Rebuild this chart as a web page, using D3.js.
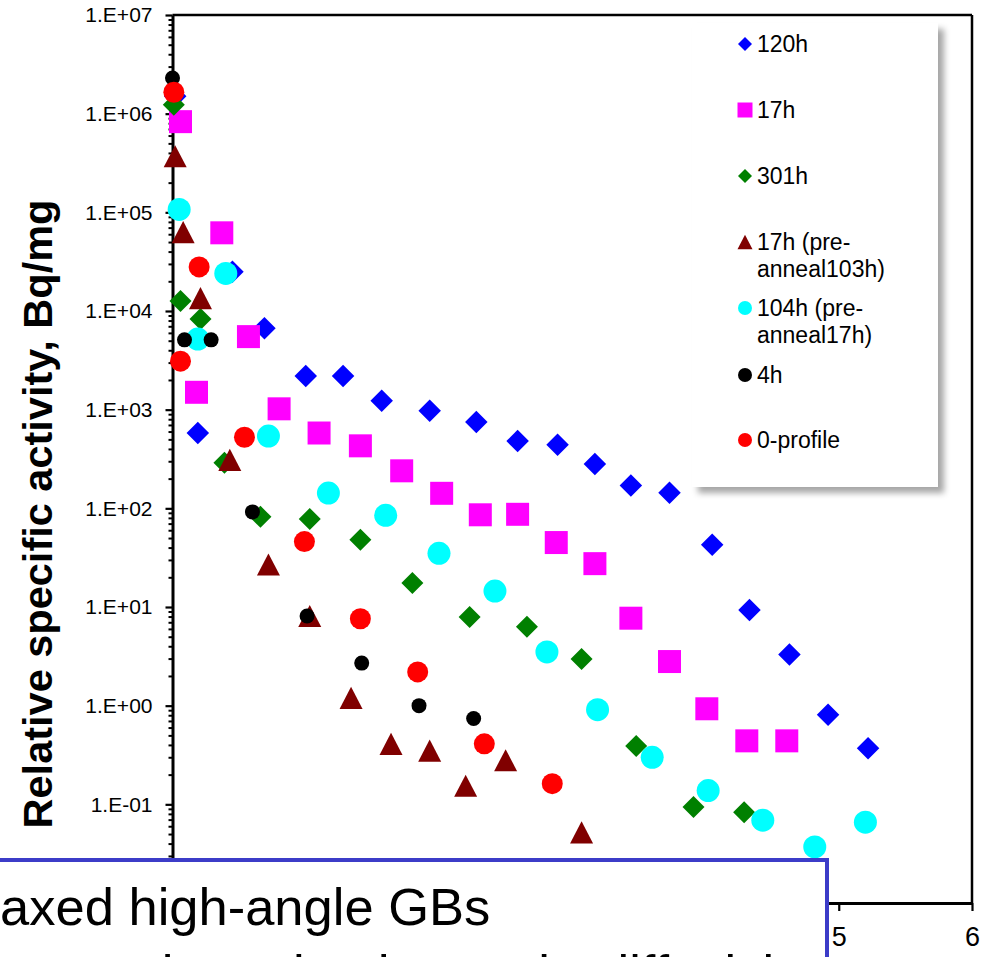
<!DOCTYPE html>
<html>
<head>
<meta charset="utf-8">
<script src="https://cdn.jsdelivr.net/npm/d3@7"></script>
<style>
  html, body { margin: 0; padding: 0; background: #fff; }
  svg { display: block; font-family: "Liberation Sans", Arial, sans-serif; }
</style>
</head>
<body>
<svg id="chart" width="986" height="957"></svg>
<script>
// ---------------- DATA ----------------
const seriesNames = ["120h", "17h", "301h", "17h (pre-anneal103h)", "104h (pre-anneal17h)", "4h", "0-profile"];
const legendLines = [["120h"], ["17h"], ["301h"], ["17h (pre-", "anneal103h)"], ["104h (pre-", "anneal17h)"], ["4h"], ["0-profile"]];

const x120h = [0.02, 0.19, 0.45, 0.69, 1.00, 1.28, 1.57, 1.93, 2.28, 2.59, 2.89, 3.17, 3.44, 3.73, 4.05, 4.33, 4.63, 4.92, 5.22];
const y120h = [1.5e6, 580, 2.5e4, 6.7e3, 2.2e3, 2.2e3, 1.23e3, 975, 750, 480, 440, 282, 170, 144, 42.7, 9.3, 3.3, 0.81, 0.37];

const x17h = [0.06, 0.37, 0.57, 0.18, 0.80, 1.10, 1.41, 1.72, 2.02, 2.31, 2.59, 2.88, 3.17, 3.44, 3.73, 4.01, 4.31, 4.61];
const y17h = [8.3e5, 6.2e4, 5.5e3, 1.5e3, 1.02e3, 580, 430, 240, 142, 86, 87, 45, 27.5, 7.7, 2.8, 0.93, 0.44, 0.44];

const x301h = [0.01, 0.06, 0.21, 0.39, 0.66, 1.03, 1.41, 1.80, 2.23, 2.66, 3.07, 3.48, 3.91, 4.29];
const y301h = [1.23e6, 1.26e4, 8.3e3, 290, 82, 78, 48, 17.5, 7.9, 6.3, 2.97, 0.39, 0.094, 0.083];

const x17hPre = [0.02, 0.08, 0.21, 0.43, 0.72, 1.03, 1.34, 1.64, 1.93, 2.20, 2.50, 3.07];
const y17hPre = [3.7e5, 6.3e4, 1.35e4, 310, 27, 8.1, 1.2, 0.41, 0.35, 0.154, 0.28, 0.052];

const x104hPre = [0.05, 0.40, 0.19, 0.72, 1.17, 1.60, 2.00, 2.42, 2.81, 3.19, 3.60, 4.02, 4.43, 4.82, 5.20];
const y104hPre = [1.07e5, 2.4e4, 5.2e3, 540, 143, 85, 35, 14.5, 3.5, 0.91, 0.30, 0.138, 0.069, 0.037, 0.066];

const x4h = [0.00, 0.09, 0.29, 0.60, 1.01, 1.42, 1.85, 2.26];
const y4h = [2.3e6, 5.1e3, 5.1e3, 92, 8.1, 2.7, 1.0, 0.74];

const x0p = [0.01, 0.20, 0.06, 0.54, 0.99, 1.41, 1.84, 2.34, 2.85];
const y0p = [1.65e6, 2.8e4, 3.1e3, 525, 46, 7.6, 2.2, 0.41, 0.162];

const xTicks = [0, 1, 2, 3, 4, 5, 6];
const xTickLabelsShown = [5, 6];          // the others lie under the text box
const yTicks = [1e-2, 1e-1, 1e0, 1e1, 1e2, 1e3, 1e4, 1e5, 1e6, 1e7];
const yTickLabelsHidden = [1e-2];          // under the text box
const yLabel = "Relative specific activity, Bq/mg";
const boxLine1 = "axed high-angle GBs";
const boxLine2a = "ant";
const boxLine2b = "role and enhanced";
const boxLine2c = "diffusivity";

// ---------------- STYLE ----------------
const seriesX = [x120h, x17h, x301h, x17hPre, x104hPre, x4h, x0p];
const seriesY = [y120h, y17h, y301h, y17hPre, y104hPre, y4h, y0p];
const colors = ["#0000FF", "#FF00FF", "#008000", "#800000", "#00FFFF", "#000000", "#FF0000"];
const shapes = ["diamond", "square", "diamond", "triangle", "circle", "circle", "circle"];
const plotSizes = [22.5, 23, 22, 23, 23, 15, 21];
const legendSizes = [14, 15, 14, 15, 14, 14, 14];

const svg = d3.select("#chart");
const plotL = 172.5, plotR = 972, plotT = 15, plotB = 903;

const x = d3.scaleLinear().domain([0, 6]).range([plotL, plotR]);
const y = d3.scaleLog().domain([1e-2, 1e7]).range([plotB, plotT]);

function shapePath(shape, d) {
  const p = d3.path();
  const r = d / 2;
  if (shape === "diamond") {
    p.moveTo(0, -r); p.lineTo(r, 0); p.lineTo(0, r); p.lineTo(-r, 0); p.closePath();
  } else if (shape === "square") {
    p.rect(-r, -r, d, d);
  } else if (shape === "triangle") {
    const h = d * 0.96;
    p.moveTo(0, -h / 2); p.lineTo(r, h / 2); p.lineTo(-r, h / 2); p.closePath();
  } else {
    p.arc(0, 0, r, 0, 2 * Math.PI);
  }
  return p.toString();
}

// defs: legend shadow
const defs = svg.append("defs");
const f = defs.append("filter").attr("id", "shadow").attr("x", "-10%").attr("y", "-10%").attr("width", "130%").attr("height", "130%");
f.append("feDropShadow").attr("dx", 6).attr("dy", 6).attr("stdDeviation", 3).attr("flood-color", "#000").attr("flood-opacity", 0.35);

// plot frame (top & right)
svg.append("line").attr("x1", plotL).attr("x2", plotR).attr("y1", plotT).attr("y2", plotT).attr("stroke", "#000").attr("stroke-width", 2.5);
svg.append("line").attr("x1", plotR).attr("x2", plotR).attr("y1", plotT).attr("y2", plotB).attr("stroke", "#000").attr("stroke-width", 2.5);

// y axis
const fmt = d => {
  if (yTickLabelsHidden.includes(d)) return "";
  const e = Math.round(Math.log10(d));
  return "1.E" + (e < 0 ? "-" : "+") + String(Math.abs(e)).padStart(2, "0");
};
const minorTicks = [];
for (let k = -2; k < 7; k++) for (let m = 2; m <= 9; m++) minorTicks.push(m * Math.pow(10, k));

const yMinor = svg.append("g").attr("transform", `translate(${plotL},0)`)
  .call(d3.axisLeft(y).tickValues(minorTicks).tickSize(4).tickFormat(""));
yMinor.select(".domain").remove();
yMinor.selectAll("line").attr("stroke", "#000").attr("stroke-width", 2);

const yAxis = svg.append("g").attr("transform", `translate(${plotL},0)`)
  .call(d3.axisLeft(y).tickValues(yTicks).tickSize(7).tickSizeOuter(0).tickPadding(13).tickFormat(fmt));
yAxis.select(".domain").attr("stroke", "#000").attr("stroke-width", 3);
yAxis.selectAll("line").attr("stroke", "#000").attr("stroke-width", 2.2);
yAxis.selectAll("text").attr("font-size", 21).attr("fill", "#000").attr("font-family", "Liberation Sans, Arial, sans-serif");

// x axis
const xAxis = svg.append("g").attr("transform", `translate(0,${plotB})`)
  .call(d3.axisBottom(x).tickValues(xTicks).tickSize(8).tickSizeOuter(0).tickPadding(16)
    .tickFormat(d => xTickLabelsShown.includes(d) ? d3.format("d")(d) : ""));
xAxis.select(".domain").attr("stroke", "#000").attr("stroke-width", 3);
xAxis.selectAll("line").attr("stroke", "#000").attr("stroke-width", 2.2);
xAxis.selectAll("text").attr("font-size", 27).attr("fill", "#000").attr("font-family", "Liberation Sans, Arial, sans-serif");

// y label
svg.append("text")
  .attr("transform", "translate(52,514) rotate(-90)")
  .attr("text-anchor", "middle")
  .attr("font-size", 41.5).attr("font-weight", "bold").attr("fill", "#000")
  .text(yLabel);

// series
seriesX.forEach((xs, i) => {
  const pts = xs.map((v, j) => [v, seriesY[i][j]]);
  svg.append("g").selectAll("path").data(pts).join("path")
    .attr("transform", d => `translate(${x(d[0])},${y(d[1])})`)
    .attr("d", shapePath(shapes[i], plotSizes[i]))
    .attr("fill", colors[i]);
});

// legend
const lg = svg.append("g");
lg.append("rect").attr("x", 692).attr("y", 23).attr("width", 246).attr("height", 464)
  .attr("fill", "#fff").attr("filter", "url(#shadow)");
const legendY = [44, 110, 176, 242, 308, 375, 440];
legendLines.forEach((lines, i) => {
  lg.append("path").attr("transform", `translate(745,${legendY[i]})`)
    .attr("d", shapePath(shapes[i], legendSizes[i])).attr("fill", colors[i]);
  const t = lg.append("text").attr("x", 757).attr("y", legendY[i] + 8).attr("font-size", 23).attr("fill", "#000");
  lines.forEach((ln, k) => t.append("tspan").attr("x", 757).attr("dy", k === 0 ? 0 : 27).text(ln));
});

// overlay text box
const box = svg.append("g");
box.append("rect").attr("x", -10).attr("y", 860).attr("width", 837).attr("height", 140)
  .attr("fill", "#fff").attr("stroke", "#3c3cc8").attr("stroke-width", 4);
box.append("text").attr("x", 0).attr("y", 925).attr("font-size", 52.5).attr("fill", "#000").text(boxLine1);
box.append("text").attr("x", 0).attr("y", 992).attr("font-size", 52.5).attr("font-weight", "bold").attr("fill", "#000").text(boxLine2a);
box.append("text").attr("x", 115).attr("y", 992).attr("font-size", 52.5).attr("fill", "#000").text(boxLine2b);
box.append("text").attr("x", 600).attr("y", 992).attr("font-size", 52.5).attr("fill", "#000").text(boxLine2c);
</script>
</body>
</html>
